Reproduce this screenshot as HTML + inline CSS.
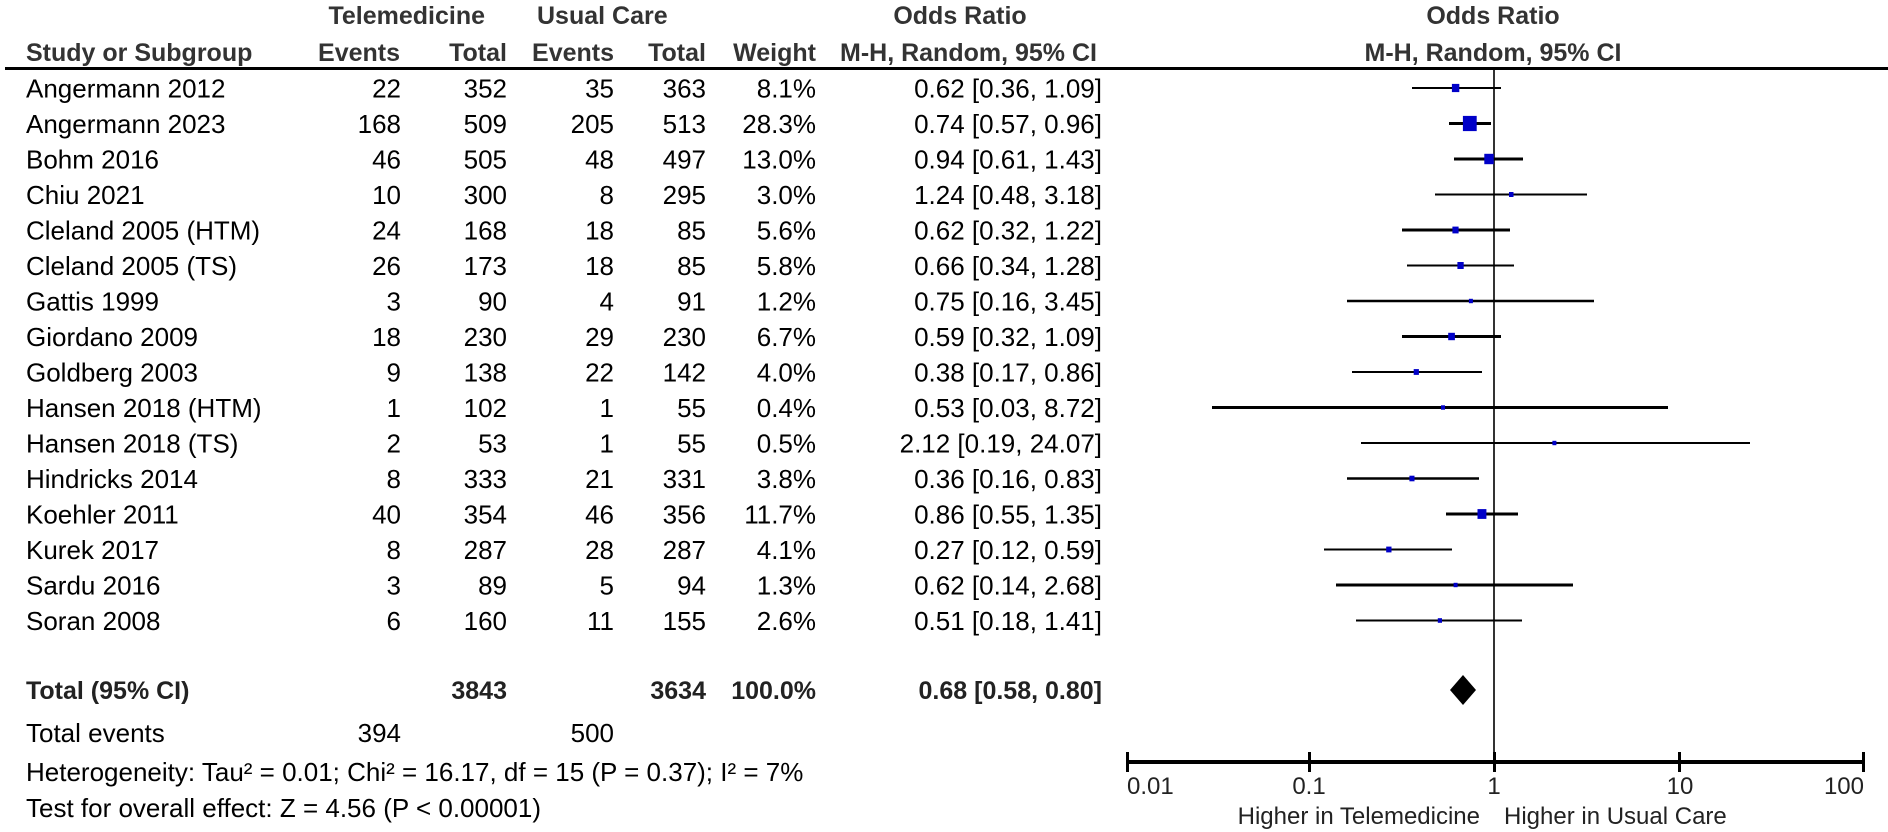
<!DOCTYPE html>
<html><head><meta charset="utf-8"><style>
html,body{margin:0;padding:0;background:#fff;}
svg{display:block;}
.r{font-family:"Liberation Sans",Arial,sans-serif;font-size:26px;fill:#000;}
.h{font-family:"Liberation Sans",Arial,sans-serif;font-size:25px;font-weight:bold;fill:#333;}
.b{font-family:"Liberation Sans",Arial,sans-serif;font-size:25px;font-weight:bold;fill:#222;}
.ax{font-family:"Liberation Sans",Arial,sans-serif;font-size:24px;fill:#222;}
</style></head><body>
<svg width="1888" height="832" viewBox="0 0 1888 832" xmlns="http://www.w3.org/2000/svg">
<g class="h">
<text x="485" y="24" text-anchor="end">Telemedicine</text>
<text x="537" y="24">Usual Care</text>
<text x="960" y="24" text-anchor="middle">Odds Ratio</text>
<text x="1493" y="24" text-anchor="middle">Odds Ratio</text>
<text x="26" y="61">Study or Subgroup</text>
<text x="400" y="61" text-anchor="end">Events</text>
<text x="507" y="61" text-anchor="end">Total</text>
<text x="614" y="61" text-anchor="end">Events</text>
<text x="706" y="61" text-anchor="end">Total</text>
<text x="816" y="61" text-anchor="end">Weight</text>
<text x="840" y="61">M-H, Random, 95% CI</text>
<text x="1493" y="61" text-anchor="middle">M-H, Random, 95% CI</text>
</g>
<rect x="5" y="67" width="1883" height="3" fill="#000"/>
<rect x="1493" y="70" width="2" height="692" fill="#333"/>

<g class="r">
<text x="26" y="97.5">Angermann 2012</text><text x="401" y="97.5" text-anchor="end">22</text><text x="507" y="97.5" text-anchor="end">352</text><text x="614" y="97.5" text-anchor="end">35</text><text x="706" y="97.5" text-anchor="end">363</text><text x="816" y="97.5" text-anchor="end">8.1%</text><text x="1102" y="97.5" text-anchor="end">0.62 [0.36, 1.09]</text>
<text x="26" y="133">Angermann 2023</text><text x="401" y="133" text-anchor="end">168</text><text x="507" y="133" text-anchor="end">509</text><text x="614" y="133" text-anchor="end">205</text><text x="706" y="133" text-anchor="end">513</text><text x="816" y="133" text-anchor="end">28.3%</text><text x="1102" y="133" text-anchor="end">0.74 [0.57, 0.96]</text>
<text x="26" y="168.5">Bohm 2016</text><text x="401" y="168.5" text-anchor="end">46</text><text x="507" y="168.5" text-anchor="end">505</text><text x="614" y="168.5" text-anchor="end">48</text><text x="706" y="168.5" text-anchor="end">497</text><text x="816" y="168.5" text-anchor="end">13.0%</text><text x="1102" y="168.5" text-anchor="end">0.94 [0.61, 1.43]</text>
<text x="26" y="204">Chiu 2021</text><text x="401" y="204" text-anchor="end">10</text><text x="507" y="204" text-anchor="end">300</text><text x="614" y="204" text-anchor="end">8</text><text x="706" y="204" text-anchor="end">295</text><text x="816" y="204" text-anchor="end">3.0%</text><text x="1102" y="204" text-anchor="end">1.24 [0.48, 3.18]</text>
<text x="26" y="239.5">Cleland 2005 (HTM)</text><text x="401" y="239.5" text-anchor="end">24</text><text x="507" y="239.5" text-anchor="end">168</text><text x="614" y="239.5" text-anchor="end">18</text><text x="706" y="239.5" text-anchor="end">85</text><text x="816" y="239.5" text-anchor="end">5.6%</text><text x="1102" y="239.5" text-anchor="end">0.62 [0.32, 1.22]</text>
<text x="26" y="275">Cleland 2005 (TS)</text><text x="401" y="275" text-anchor="end">26</text><text x="507" y="275" text-anchor="end">173</text><text x="614" y="275" text-anchor="end">18</text><text x="706" y="275" text-anchor="end">85</text><text x="816" y="275" text-anchor="end">5.8%</text><text x="1102" y="275" text-anchor="end">0.66 [0.34, 1.28]</text>
<text x="26" y="310.5">Gattis 1999</text><text x="401" y="310.5" text-anchor="end">3</text><text x="507" y="310.5" text-anchor="end">90</text><text x="614" y="310.5" text-anchor="end">4</text><text x="706" y="310.5" text-anchor="end">91</text><text x="816" y="310.5" text-anchor="end">1.2%</text><text x="1102" y="310.5" text-anchor="end">0.75 [0.16, 3.45]</text>
<text x="26" y="346">Giordano 2009</text><text x="401" y="346" text-anchor="end">18</text><text x="507" y="346" text-anchor="end">230</text><text x="614" y="346" text-anchor="end">29</text><text x="706" y="346" text-anchor="end">230</text><text x="816" y="346" text-anchor="end">6.7%</text><text x="1102" y="346" text-anchor="end">0.59 [0.32, 1.09]</text>
<text x="26" y="381.5">Goldberg 2003</text><text x="401" y="381.5" text-anchor="end">9</text><text x="507" y="381.5" text-anchor="end">138</text><text x="614" y="381.5" text-anchor="end">22</text><text x="706" y="381.5" text-anchor="end">142</text><text x="816" y="381.5" text-anchor="end">4.0%</text><text x="1102" y="381.5" text-anchor="end">0.38 [0.17, 0.86]</text>
<text x="26" y="417">Hansen 2018 (HTM)</text><text x="401" y="417" text-anchor="end">1</text><text x="507" y="417" text-anchor="end">102</text><text x="614" y="417" text-anchor="end">1</text><text x="706" y="417" text-anchor="end">55</text><text x="816" y="417" text-anchor="end">0.4%</text><text x="1102" y="417" text-anchor="end">0.53 [0.03, 8.72]</text>
<text x="26" y="452.5">Hansen 2018 (TS)</text><text x="401" y="452.5" text-anchor="end">2</text><text x="507" y="452.5" text-anchor="end">53</text><text x="614" y="452.5" text-anchor="end">1</text><text x="706" y="452.5" text-anchor="end">55</text><text x="816" y="452.5" text-anchor="end">0.5%</text><text x="1102" y="452.5" text-anchor="end">2.12 [0.19, 24.07]</text>
<text x="26" y="488">Hindricks 2014</text><text x="401" y="488" text-anchor="end">8</text><text x="507" y="488" text-anchor="end">333</text><text x="614" y="488" text-anchor="end">21</text><text x="706" y="488" text-anchor="end">331</text><text x="816" y="488" text-anchor="end">3.8%</text><text x="1102" y="488" text-anchor="end">0.36 [0.16, 0.83]</text>
<text x="26" y="523.5">Koehler 2011</text><text x="401" y="523.5" text-anchor="end">40</text><text x="507" y="523.5" text-anchor="end">354</text><text x="614" y="523.5" text-anchor="end">46</text><text x="706" y="523.5" text-anchor="end">356</text><text x="816" y="523.5" text-anchor="end">11.7%</text><text x="1102" y="523.5" text-anchor="end">0.86 [0.55, 1.35]</text>
<text x="26" y="559">Kurek 2017</text><text x="401" y="559" text-anchor="end">8</text><text x="507" y="559" text-anchor="end">287</text><text x="614" y="559" text-anchor="end">28</text><text x="706" y="559" text-anchor="end">287</text><text x="816" y="559" text-anchor="end">4.1%</text><text x="1102" y="559" text-anchor="end">0.27 [0.12, 0.59]</text>
<text x="26" y="594.5">Sardu 2016</text><text x="401" y="594.5" text-anchor="end">3</text><text x="507" y="594.5" text-anchor="end">89</text><text x="614" y="594.5" text-anchor="end">5</text><text x="706" y="594.5" text-anchor="end">94</text><text x="816" y="594.5" text-anchor="end">1.3%</text><text x="1102" y="594.5" text-anchor="end">0.62 [0.14, 2.68]</text>
<text x="26" y="630">Soran 2008</text><text x="401" y="630" text-anchor="end">6</text><text x="507" y="630" text-anchor="end">160</text><text x="614" y="630" text-anchor="end">11</text><text x="706" y="630" text-anchor="end">155</text><text x="816" y="630" text-anchor="end">2.6%</text><text x="1102" y="630" text-anchor="end">0.51 [0.18, 1.41]</text>
</g>

<g stroke="#000">
<line x1="1412" y1="88" x2="1501" y2="88" stroke-width="2"/>
<line x1="1449" y1="123.5" x2="1491" y2="123.5" stroke-width="3"/>
<line x1="1454" y1="159" x2="1523" y2="159" stroke-width="3"/>
<line x1="1435" y1="194.5" x2="1587" y2="194.5" stroke-width="2"/>
<line x1="1402" y1="230" x2="1510" y2="230" stroke-width="3"/>
<line x1="1407" y1="265.5" x2="1514" y2="265.5" stroke-width="2"/>
<line x1="1347" y1="301" x2="1594" y2="301" stroke-width="2.5"/>
<line x1="1402" y1="336.5" x2="1501" y2="336.5" stroke-width="3"/>
<line x1="1352" y1="372" x2="1482" y2="372" stroke-width="2"/>
<line x1="1212" y1="407.5" x2="1668" y2="407.5" stroke-width="3"/>
<line x1="1361" y1="443" x2="1750" y2="443" stroke-width="2"/>
<line x1="1347" y1="478.5" x2="1479" y2="478.5" stroke-width="2.5"/>
<line x1="1446" y1="514" x2="1518" y2="514" stroke-width="3"/>
<line x1="1324" y1="549.5" x2="1452" y2="549.5" stroke-width="2"/>
<line x1="1336" y1="585" x2="1573" y2="585" stroke-width="3"/>
<line x1="1356" y1="620.5" x2="1522" y2="620.5" stroke-width="2"/>
</g>
<g fill="#0000c8">
<rect x="1451.9" y="83.9" width="7.4" height="8.2"/>
<rect x="1462.9" y="115.9" width="13.8" height="15.2"/>
<rect x="1484.3" y="153.8" width="9.4" height="10.4"/>
<rect x="1509" y="192" width="4.5" height="5"/>
<rect x="1452.4" y="226.6" width="6.2" height="6.8"/>
<rect x="1457.4" y="262" width="6.3" height="7"/>
<rect x="1468.9" y="298.8" width="4" height="4.4"/>
<rect x="1448.2" y="332.8" width="6.7" height="7.4"/>
<rect x="1413.7" y="369.1" width="5.2" height="5.8"/>
<rect x="1441" y="405.3" width="4" height="4.4"/>
<rect x="1552.4" y="440.8" width="4" height="4.4"/>
<rect x="1409.4" y="475.7" width="5.1" height="5.6"/>
<rect x="1477.5" y="509.1" width="8.9" height="9.8"/>
<rect x="1386.2" y="546.6" width="5.3" height="5.8"/>
<rect x="1453.6" y="582.8" width="4" height="4.4"/>
<rect x="1437.8" y="618.2" width="4.2" height="4.6"/>
</g>

<g class="b">
<text x="26" y="699">Total (95% CI)</text>
<text x="507" y="699" text-anchor="end">3843</text>
<text x="706" y="699" text-anchor="end">3634</text>
<text x="816" y="699" text-anchor="end">100.0%</text>
<text x="1102" y="699" text-anchor="end">0.68 [0.58, 0.80]</text>
</g>
<g class="r">
<text x="26" y="742">Total events</text>
<text x="401" y="742" text-anchor="end">394</text>
<text x="614" y="742" text-anchor="end">500</text>
<text x="26" y="781">Heterogeneity: Tau² = 0.01; Chi² = 16.17, df = 15 (P = 0.37); I² = 7%</text>
<text x="26" y="817">Test for overall effect: Z = 4.56 (P &lt; 0.00001)</text>
</g>
<polygon points="1450,690 1463,675 1476,690 1463,705" fill="#000"/>
<rect x="1127" y="760" width="737" height="4" fill="#000"/>
<rect x="1126" y="752" width="3" height="20" fill="#000"/>
<rect x="1308" y="752" width="3" height="20" fill="#000"/>
<rect x="1493" y="752" width="3" height="20" fill="#000"/>
<rect x="1678" y="752" width="3" height="20" fill="#000"/>
<rect x="1862" y="752" width="3" height="20" fill="#000"/>
<g class="ax">
<text x="1127" y="794">0.01</text>
<text x="1309" y="794" text-anchor="middle">0.1</text>
<text x="1494" y="794" text-anchor="middle">1</text>
<text x="1680" y="794" text-anchor="middle">10</text>
<text x="1864" y="794" text-anchor="end">100</text>
<text x="1480" y="824" text-anchor="end">Higher in Telemedicine</text>
<text x="1504" y="824">Higher in Usual Care</text>
</g>
</svg>
</body></html>
